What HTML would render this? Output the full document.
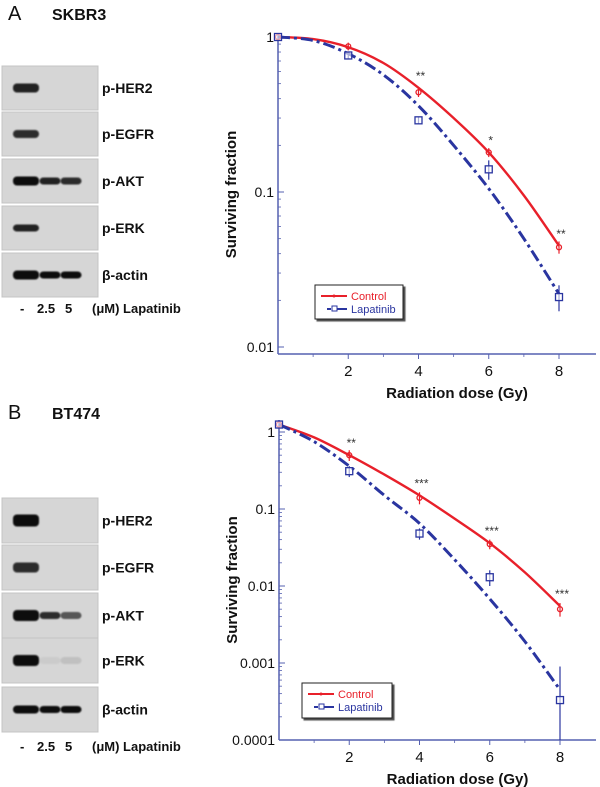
<!DOCTYPE html>
<html><head><meta charset="utf-8">
<style>
body{margin:0;background:#fff;width:600px;height:787px;overflow:hidden;font-family:"Liberation Sans",sans-serif;}
svg{position:absolute;left:0;top:0}
</style></head>
<body>
<svg width="600" height="787" viewBox="0 0 600 787" id="fig">
<defs>
<filter id="blur" x="-50%" y="-50%" width="200%" height="200%"><feGaussianBlur stdDeviation="0.9"/></filter>
<filter id="sh"><feDropShadow dx="2" dy="2" stdDeviation="0.5" flood-color="#000" flood-opacity="0.7"/></filter>
</defs>
<text x="8" y="20" font-size="20" fill="#111">A</text>
<text x="52" y="20" font-size="16" font-weight="bold" fill="#111">SKBR3</text>
<text x="8" y="419" font-size="20" fill="#111">B</text>
<text x="52" y="419" font-size="16" font-weight="bold" fill="#111">BT474</text>
<g id="blots"></g>
<g id="chartA"></g>
<g id="chartB"></g>
</svg>
<script>
const NS="http://www.w3.org/2000/svg";
function mk(tag,attrs,parent){const e=document.createElementNS(NS,tag);for(const k in attrs)e.setAttribute(k,attrs[k]);parent.appendChild(e);return e;}

// ---- Western blots ----
const blotLabels=["p-HER2","p-EGFR","p-AKT","p-ERK","β-actin"];
const blotA_rows=[66,112,159,206,253];
const blotB_rows=[498,545,593,638,687];
// band intensities per lane (0..1) [lane-, 2.5, 5]
const bandsA=[[0.9,0,0],[0.85,0,0],[1,0.9,0.85],[0.9,0,0],[1,1,1]];
const bandsB=[[1,0,0],[0.85,0,0],[1,0.85,0.6],[1,0.05,0.1],[1,1,1]];
const bandH_A=[9,8,9,7,9];
const bandH_B=[12,10,11,11,8];
const blots=document.getElementById('blots');
function drawBlots(rows,bands,bandH,h,labelY,prefix){
  rows.forEach((y,i)=>{
    const r=mk('rect',{x:2,y:y,width:96,height:h,fill:'#d6d6d6',stroke:'#c4c4c4','stroke-width':1},blots);
    
    
    const lanes=[26,50,71];
    bands[i].forEach((v,j)=>{
      if(v<=0.02)return;
      const w=j==0?26:21;const bh=j==0?bandH[i]:Math.min(bandH[i],7);
      const b=mk('rect',{x:lanes[j]-w/2,y:y+h/2-bh/2,width:w,height:bh,rx:4,fill:'#0a0a0a','fill-opacity':v,filter:'url(#blur)'},blots);
      
      
    });
    const t=mk('text',{x:102,y:y+h/2+5,'font-size':14,'font-weight':'bold',fill:'#111'},blots);
    t.textContent=blotLabels[i];
    
    
  });
  const parts=[["-",20],["2.5",37],["5",65],["(μM) Lapatinib",92]];
  parts.forEach(p=>{
    const l=mk('text',{x:p[1],y:labelY,'font-size':13,'font-weight':'bold',fill:'#111'},blots);
    l.textContent=p[0];
    
    
  });
}
drawBlots(blotA_rows,bandsA,bandH_A,44,313,'a');
drawBlots(blotB_rows,bandsB,bandH_B,45,751,'b');

// ---- Survival charts ----
const doses=[0,2,4,6,8];
const fitDoses=[0,1,2,3,4,5,6,7,8];
const ctrlA=[1,0.87,0.44,0.18,0.044];
const lapA=[1,0.76,0.29,0.14,0.021];
const ctrlFitA=[1,0.97,0.86,0.68,0.47,0.3,0.18,0.095,0.045];
const lapFitA=[1,0.95,0.78,0.57,0.36,0.2,0.105,0.05,0.022];
const sigA=["","","**","*","**"];
const ctrlB=[1.25,0.5,0.14,0.035,0.005];
const lapB=[1.25,0.31,0.048,0.013,0.00033];
const lapErrB=[0,0.05,0.008,0.003,0.00057];
const ctrlErrB=[0,0.08,0.025,0.005,0.001];
const ctrlFitB=[1.25,0.85,0.5,0.28,0.15,0.075,0.036,0.015,0.0055];
const lapFitB=[1.25,0.75,0.36,0.15,0.065,0.022,0.0068,0.0019,0.00045];
const sigB=["","**","***","***","***"];
const ticksA=[1,0.1,0.01];
const ticksB=[1,0.1,0.01,0.001,0.0001];

function smooth(pts){
  let d='M'+pts[0][0].toFixed(1)+' '+pts[0][1].toFixed(1);
  for(let i=0;i<pts.length-1;i++){
    const p0=pts[Math.max(i-1,0)],p1=pts[i],p2=pts[i+1],p3=pts[Math.min(i+2,pts.length-1)];
    const c1=[p1[0]+(p2[0]-p0[0])/6,p1[1]+(p2[1]-p0[1])/6];
    const c2=[p2[0]-(p3[0]-p1[0])/6,p2[1]-(p3[1]-p1[1])/6];
    d+=` C${c1[0].toFixed(1)} ${c1[1].toFixed(1)} ${c2[0].toFixed(1)} ${c2[1].toFixed(1)} ${p2[0].toFixed(1)} ${p2[1].toFixed(1)}`;
  }
  return d;
}

function chart(g,o){
  const X=d=>o.x0+(o.x8-o.x0)*d/8;
  const Y=v=>o.yTop+(o.yBot-o.yTop)*(Math.log10(o.vTop)-Math.log10(v))/(Math.log10(o.vTop)-Math.log10(o.vBot));
  const ax='#5560b0';
  let e=mk('line',{x1:o.x0,y1:o.axTop,x2:o.x0,y2:o.yAxis,stroke:ax,'stroke-width':1.5},g);
  
  e=mk('line',{x1:o.x0,y1:o.yAxis,x2:596,y2:o.yAxis,stroke:ax,'stroke-width':1.5},g);
  
  o.ticks.forEach((t,i)=>{
    const y=Y(t);
    mk('line',{x1:o.x0,y1:y,x2:o.x0+6,y2:y,stroke:ax,'stroke-width':1},g);
    const tx=mk('text',{x:o.x0-4,y:y+5,'font-size':14,'text-anchor':'end',fill:'#111'},g);
    tx.textContent=t.toString();
    
    if(i<o.ticks.length-1){for(let m=2;m<=9;m++){const yy=Y(t/10*m);mk('line',{x1:o.x0,y1:yy,x2:o.x0+3,y2:yy,stroke:ax,'stroke-width':0.8},g);}}
  });
  [2,4,6,8].forEach(d=>{
    mk('line',{x1:X(d),y1:o.yAxis,x2:X(d),y2:o.yAxis+5,stroke:ax,'stroke-width':1},g);
    const tx=mk('text',{x:X(d),y:o.yAxis+22,'font-size':15,'text-anchor':'middle',fill:'#111'},g);
    tx.textContent=d;
    mk('line',{x1:X(d-1),y1:o.yAxis,x2:X(d-1),y2:o.yAxis+3,stroke:ax,'stroke-width':0.8},g);
  });
  let t=mk('text',{x:(o.x0+596)/2+20,y:o.yAxis+44,'font-size':15,'font-weight':'bold','text-anchor':'middle',fill:'#111'},g);
  t.textContent='Radiation dose (Gy)';
  const cy=(o.axTop+o.yAxis)/2;
  t=mk('text',{x:0,y:0,'font-size':15,'font-weight':'bold','text-anchor':'middle',fill:'#111',transform:`translate(${o.x0-42},${cy}) rotate(-90)`},g);
  t.textContent='Surviving fraction';
  const path=(arr)=>smooth(fitDoses.map((d,i)=>[X(d),Y(arr[i])]));
  e=mk('path',{d:path(o.cFit),fill:'none',stroke:'#e8202a','stroke-width':2.4},g);
  
  e=mk('path',{d:path(o.lFit),fill:'none',stroke:'#2a35a0','stroke-width':3,'stroke-dasharray':'12 4 3 4'},g);
  
  doses.forEach((d,i)=>{
    const cx=X(d);
    if(o.cErr&&o.cErr[i]){mk('line',{x1:cx,y1:Y(o.c[i]+o.cErr[i]),x2:cx,y2:Y(o.c[i]-o.cErr[i]),stroke:'#e8202a','stroke-width':1.2},g);}
    e=mk('circle',{cx:cx,cy:Y(o.c[i]),r:2.5,fill:'none',stroke:'#e8202a','stroke-width':1.3},g);
    
    if(o.lErr&&o.lErr[i]){mk('line',{x1:cx,y1:Y(o.l[i]+o.lErr[i]),x2:cx,y2:Y(Math.max(o.l[i]-o.lErr[i],o.vBot)),stroke:'#2a35a0','stroke-width':1.2},g);}
    e=mk('rect',{x:cx-3.5,y:Y(o.l[i])-3.5,width:7,height:7,fill:'#fff','fill-opacity':0.6,stroke:'#2a35a0','stroke-width':1.3},g);
    
    if(o.sig[i]){const s=mk('text',{x:cx+2,y:Y(Math.max(o.c[i],o.cFit[d]))-8,'font-size':12,'text-anchor':'middle',fill:'#333'},g);
      s.textContent=o.sig[i];}
  });
  const L=o.leg;
  e=mk('rect',{x:L.x,y:L.y,width:L.w,height:L.h,fill:'#fff',stroke:'#222','stroke-width':1,filter:'url(#sh)'},g);
  
  mk('line',{x1:L.x+6,y1:L.y+11,x2:L.x+32,y2:L.y+11,stroke:'#e8202a','stroke-width':2},g);
  mk('circle',{cx:L.x+19,cy:L.y+11,r:1.5,fill:'#e8202a'},g);
  t=mk('text',{x:L.x+36,y:L.y+15,'font-size':11,fill:'#e8202a'},g);t.textContent='Control';
  
  mk('line',{x1:L.x+12,y1:L.y+24,x2:L.x+32,y2:L.y+24,stroke:'#2a35a0','stroke-width':2,'stroke-dasharray':'4 2 10 0'},g);
  mk('rect',{x:L.x+17,y:L.y+21,width:5,height:5,fill:'#fff',stroke:'#2a35a0'},g);
  t=mk('text',{x:L.x+36,y:L.y+28,'font-size':11,fill:'#2a35a0'},g);t.textContent='Lapatinib';
  
}
chart(document.getElementById('chartA'),{x0:278,x8:559,yTop:37,yBot:347,vTop:1,vBot:0.01,axTop:35,yAxis:354,ticks:ticksA,
  c:ctrlA,l:lapA,cFit:ctrlFitA,lFit:lapFitA,sig:sigA,cErr:[0,0.05,0.03,0.012,0.004],lErr:[0,0.04,0.015,0.02,0.004],leg:{x:315,y:285,w:88,h:34}});
chart(document.getElementById('chartB'),{x0:279,x8:560,yTop:432,yBot:740,vTop:1,vBot:0.0001,axTop:420,yAxis:740,ticks:ticksB,
  c:ctrlB,l:lapB,cFit:ctrlFitB,lFit:lapFitB,sig:sigB,cErr:ctrlErrB,lErr:lapErrB,leg:{x:302,y:683,w:90,h:35}});
</script>
</body></html>
